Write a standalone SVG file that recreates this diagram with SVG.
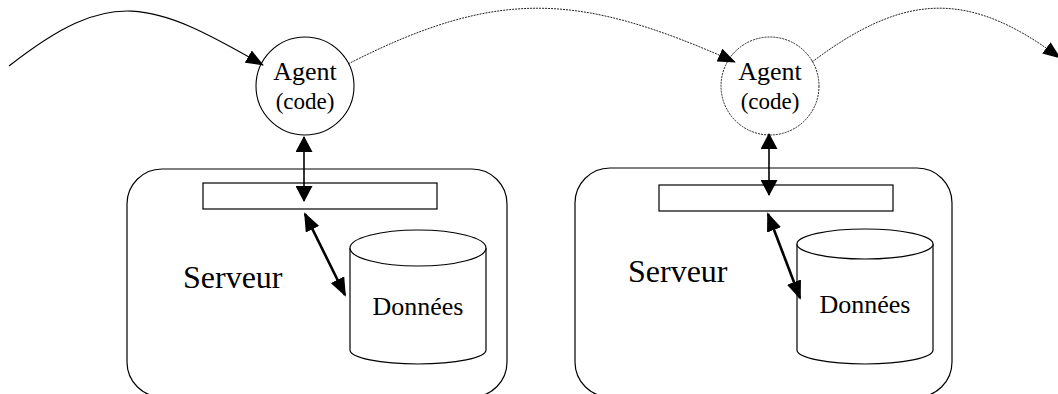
<svg xmlns="http://www.w3.org/2000/svg" width="1058" height="394" viewBox="0 0 1058 394">
  <defs>
    <style>
      .line { fill: none; stroke: #000; }
      .dot { fill: none; stroke: #222; stroke-width: 1; stroke-dasharray: 2 1; }
      .box { fill: #fff; stroke: #000; stroke-width: 1.2; }
      .label { font-family: "Liberation Serif", "Times New Roman", serif; fill: #000; }
    </style>
    <!-- arrowhead for the curved migration arcs -->
    <marker id="arcHead" viewBox="0 0 18 14" refX="17" refY="7" markerWidth="18" markerHeight="14" markerUnits="userSpaceOnUse" orient="auto">
      <path d="M0,0 L18,7 L0,14 z" fill="#000"/>
    </marker>
    <!-- arrowheads for the agent/server link -->
    <marker id="vHead" viewBox="0 0 16 17" refX="15" refY="8.5" markerWidth="16" markerHeight="17" markerUnits="userSpaceOnUse" orient="auto-start-reverse">
      <path d="M0,0 L16,8.5 L0,17 z" fill="#000"/>
    </marker>
    <!-- arrowheads for the server/data link -->
    <marker id="dHead" viewBox="0 0 19 15" refX="17" refY="7.5" markerWidth="19" markerHeight="15" markerUnits="userSpaceOnUse" orient="auto-start-reverse">
      <path d="M0,0 L19,7.5 L0,15 z" fill="#000"/>
    </marker>
  </defs>

  <rect width="1058" height="394" fill="#fff"/>

  <!-- first server -->
  <g id="server1">
    <rect class="box" x="127" y="169" width="380" height="228" rx="35"/>
    <rect class="box" x="203" y="183" width="234" height="26" rx="0"/>
    <text class="label" x="183" y="288" font-size="32">Serveur</text>
  </g>
  <g id="data1">
    <path class="box" d="M350,248 L350,350 A68,14 0 0 0 486,350 L486,248"/>
    <ellipse class="box" cx="418" cy="248" rx="68" ry="18"/>
    <text class="label" x="418" y="315" font-size="26" text-anchor="middle">Données</text>
  </g>
  <g id="agent1">
    <circle cx="305" cy="86" r="49" fill="#fff" stroke="#000" stroke-width="1.1"/>
    <text class="label" x="305" y="80" font-size="26" text-anchor="middle">Agent</text>
    <text class="label" x="305" y="109" font-size="23" text-anchor="middle">(code)</text>
  </g>

  <!-- second server -->
  <g id="server2">
    <rect class="box" x="575" y="168" width="377" height="229" rx="35"/>
    <rect class="box" x="659" y="185" width="234" height="26"/>
    <text class="label" x="628" y="282" font-size="32">Serveur</text>
  </g>
  <g id="data2">
    <path class="box" d="M797,244 L797,350 A68,14 0 0 0 933,350 L933,244"/>
    <ellipse class="box" cx="865" cy="244" rx="68" ry="15"/>
    <text class="label" x="865" y="313" font-size="26" text-anchor="middle">Données</text>
  </g>
  <g id="agent2">
    <circle class="dot" cx="770" cy="86" r="49" fill="#fff"/>
    <text class="label" x="770" y="80" font-size="26" text-anchor="middle">Agent</text>
    <text class="label" x="770" y="109" font-size="23" text-anchor="middle">(code)</text>
  </g>

  <g id="connectors">
    <!-- agent arrives at the first server -->
    <path class="line" stroke-width="1.2" d="M9,66 C111,-14 150,0 263,65" marker-end="url(#arcHead)"/>
    <!-- hop to the second server -->
    <path class="dot" d="M348,64 C499,-13 580,-7 735,62" marker-end="url(#arcHead)"/>
    <!-- hop onward -->
    <path class="dot" d="M812,62 C904,-7 968,-11 1060,58" marker-end="url(#arcHead)"/>

    <!-- agent to server interface -->
    <path class="line" stroke-width="1.6" d="M304,137 L304,201" marker-start="url(#vHead)" marker-end="url(#vHead)"/>
    <path class="line" stroke-width="1.6" d="M769,134 L769,195" marker-start="url(#vHead)" marker-end="url(#vHead)"/>

    <!-- interface to data -->
    <path class="line" stroke-width="2.6" d="M305,214 L345,295" marker-start="url(#dHead)" marker-end="url(#dHead)"/>
    <path class="line" stroke-width="2.6" d="M768,214 L800,298" marker-start="url(#dHead)" marker-end="url(#dHead)"/>
  </g>
</svg>
